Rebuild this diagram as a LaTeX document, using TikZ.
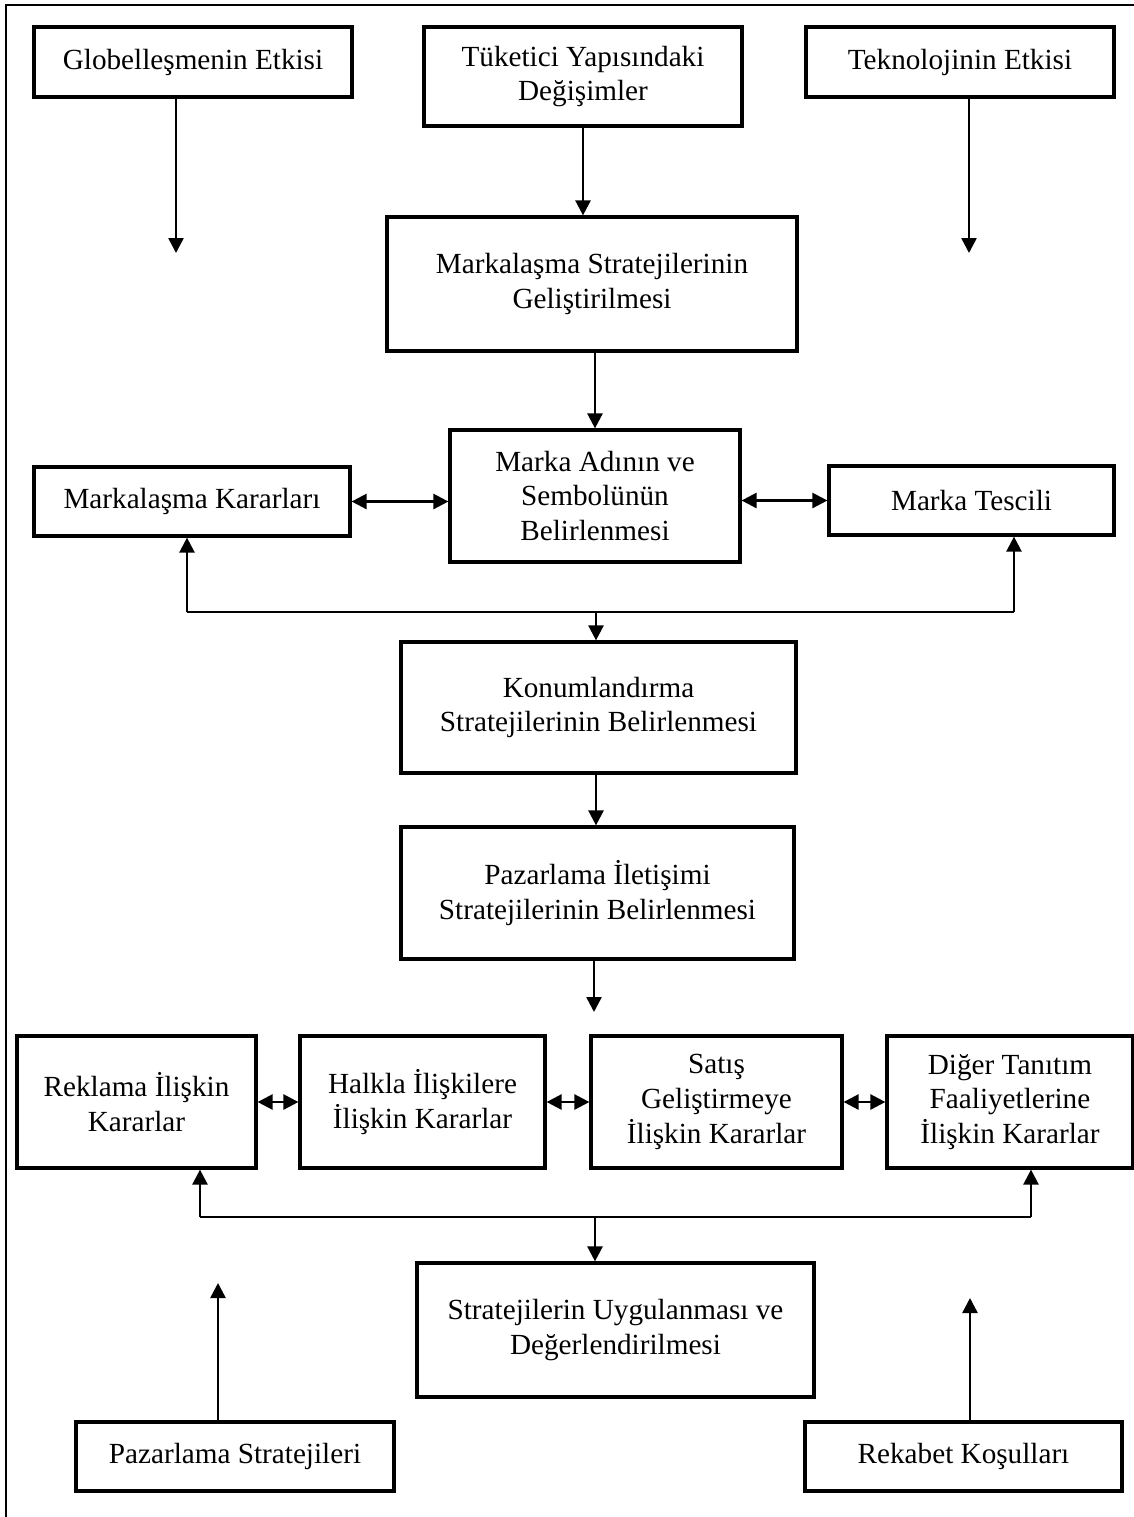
\documentclass[tikz,border=0pt]{standalone}
\usepackage{fontspec}
\setmainfont{Liberation Serif}
\usetikzlibrary{arrows.meta}
\begin{document}
\begin{tikzpicture}[x=0.5pt,y=-0.5pt,
  box/.style={draw, line width=1.6pt, fill=white, inner sep=0pt, align=center,
    font=\fontsize{14.6pt}{17.3pt}\selectfont},
  arr/.style={line width=1.25pt, -{Triangle[width=7.5pt,length=7.5pt]}},
  darr/.style={line width=1.25pt,
    {Triangle[width=7.5pt,length=7.5pt]}-{Triangle[width=7.5pt,length=7.5pt]}},
  bus/.style={line width=1pt},
  frameline/.style={line width=1pt}]
\useasboundingbox (0,0) rectangle (1134,1517);

% outer frame (top and left edges only)
\draw[frameline] (1134,5) -- (6,5) -- (6,1517);

% top row of external factors
\node[box, minimum width=159pt, minimum height=35pt] (glob) at (193,62) {Globelleşmenin Etkisi};
\node[box, minimum width=159pt, minimum height=49.5pt] (tuk) at (583,76.5) {Tüketici Yapısındaki\\Değişimler};
\node[box, minimum width=154pt, minimum height=35pt] (tek) at (960,62) {Teknolojinin Etkisi};

% branding strategy chain
\node[box, minimum width=205pt, minimum height=67pt] (mstr) at (592,284) {Markalaşma Stratejilerinin\\Geliştirilmesi};
\node[box, minimum width=145pt, minimum height=66pt] (madi) at (595,496) {Marka Adının ve\\Sembolünün\\Belirlenmesi};
\node[box, minimum width=158pt, minimum height=34.5pt] (mkar) at (192,501.5) {Markalaşma Kararları};
\node[box, minimum width=142.5pt, minimum height=34.5pt] (tesc) at (971.5,500.5) {Marka Tescili};
\node[box, minimum width=197.5pt, minimum height=65.5pt] (kon) at (598.5,707.5) {Konumlandırma\\Stratejilerinin Belirlenmesi};
\node[box, minimum width=196.5pt, minimum height=66pt] (pil) at (597.5,893) {Pazarlama İletişimi\\Stratejilerinin Belirlenmesi};

% communication decisions
\node[box, minimum width=119.5pt, minimum height=66pt] (rek) at (136.5,1102) {Reklama İlişkin\\Kararlar};
\node[box, minimum width=122.5pt, minimum height=66pt] (hal) at (422.5,1102) {Halkla İlişkilere\\İlişkin Kararlar};
\node[box, minimum width=125.5pt, minimum height=66pt] (sat) at (716.5,1102) {Satış\\Geliştirmeye\\İlişkin Kararlar};
\node[box, minimum width=123pt, minimum height=66pt] (dig) at (1010,1102) {Diğer Tanıtım\\Faaliyetlerine\\İlişkin Kararlar};

\node[box, minimum width=198.5pt, minimum height=67pt] (str) at (615.5,1330) {Stratejilerin Uygulanması ve\\Değerlendirilmesi};

% bottom row of external factors
\node[box, minimum width=159pt, minimum height=34.5pt] (paz) at (235,1456.5) {Pazarlama Stratejileri};
\node[box, minimum width=158.5pt, minimum height=34.5pt] (rkb) at (963.5,1456.5) {Rekabet Koşulları};

% connectors: top factors
\coordinate (g1) at (176,253);
\coordinate (t1) at (969,253);
\draw[arr] (glob.south -| g1) -- (g1);
\draw[arr] (tek.south -| t1) -- (t1);
\draw[arr] (tuk.south) -- (tuk.south |- mstr.north);
\draw[arr] (madi.north |- mstr.south) -- (madi.north);

% connectors: brand name row
\draw[darr] (mkar.east) -- (madi.west |- mkar.east);
\draw[darr] (madi.east |- tesc.west) -- (tesc.west);

\coordinate (b1l) at (187,612);
\coordinate (b1r) at (1014,612);
\coordinate (b1m) at (596,612);
\draw[bus] (b1l) -- (b1r);
\draw[arr] (b1l) -- (mkar.south -| b1l);
\draw[arr] (b1r) -- (tesc.south -| b1r);
\draw[arr] (b1m) -- (kon.north -| b1m);
\draw[arr] (kon.south -| b1m) -- (pil.north -| b1m);

\coordinate (p1) at (594,1012);
\draw[arr] (pil.south -| p1) -- (p1);

% connectors: decisions row
\draw[darr] (rek.east) -- (hal.west);
\draw[darr] (hal.east) -- (sat.west);
\draw[darr] (sat.east) -- (dig.west);

\coordinate (b2l) at (200,1217);
\coordinate (b2r) at (1031,1217);
\coordinate (b2m) at (595,1217);
\draw[bus] (b2l) -- (b2r);
\draw[arr] (b2l) -- (rek.south -| b2l);
\draw[arr] (b2r) -- (dig.south -| b2r);
\draw[arr] (b2m) -- (str.north -| b2m);

% connectors: bottom factors
\coordinate (pz) at (218,1283);
\coordinate (rk) at (970,1298);
\draw[arr] (paz.north -| pz) -- (pz);
\draw[arr] (rkb.north -| rk) -- (rk);
\end{tikzpicture}
\end{document}
